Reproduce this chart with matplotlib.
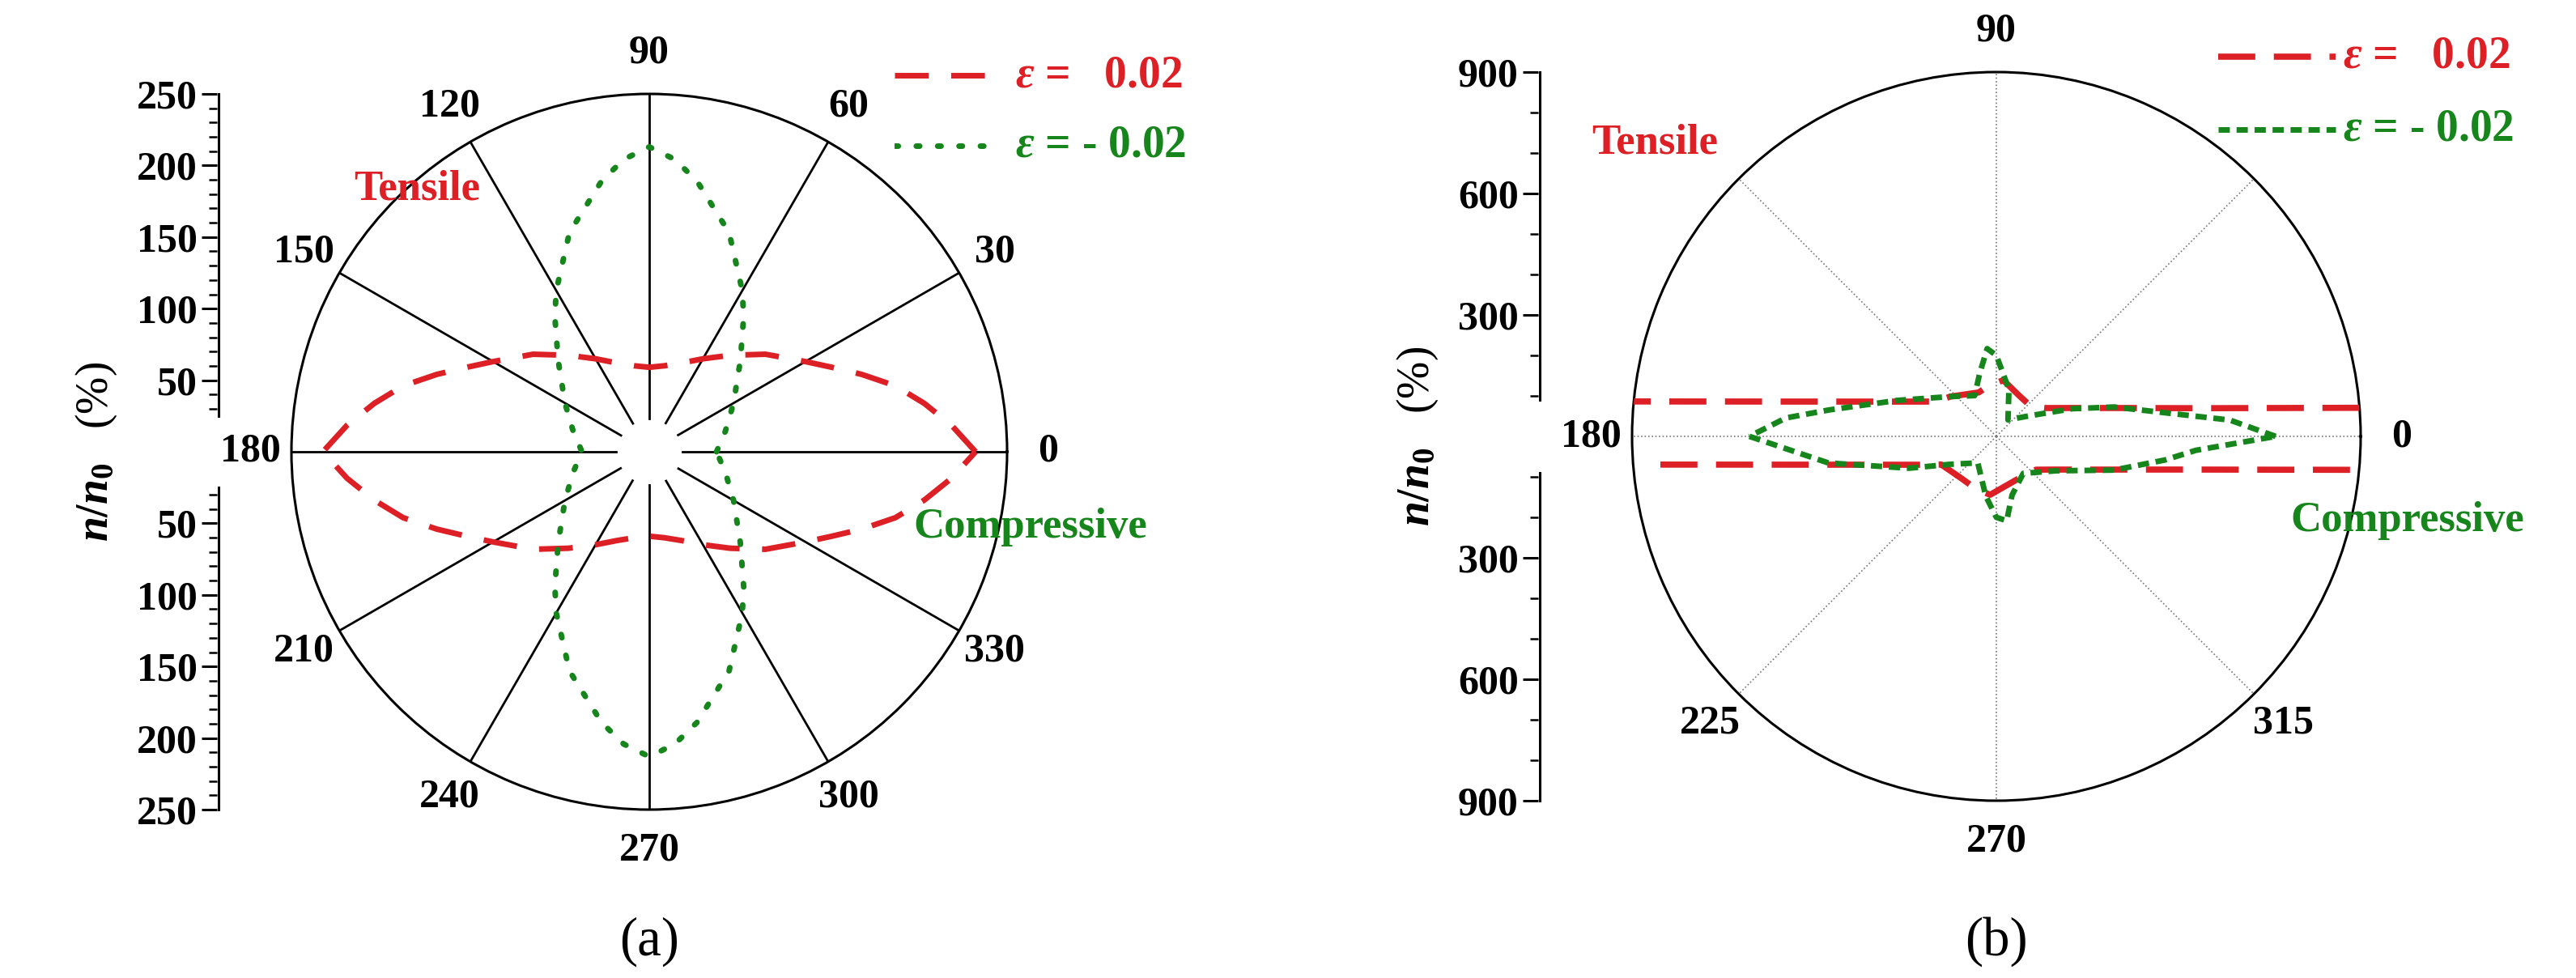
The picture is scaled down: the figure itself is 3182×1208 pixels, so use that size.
import numpy as np
import matplotlib
matplotlib.use('Agg')
import matplotlib.pyplot as plt
from matplotlib.ticker import FuncFormatter

plt.rcParams['font.family'] = 'Liberation Serif'
plt.rcParams['font.weight'] = 'bold'
plt.rcParams['mathtext.fontset'] = 'custom'
plt.rcParams['mathtext.it'] = 'Liberation Serif:italic:bold'
plt.rcParams['mathtext.rm'] = 'Liberation Serif:bold'

RED = '#dd1f26'
GREEN = '#16861c'

# ---- panel (a): angle (deg) / n/n0 (%) ----
a_tens_ang = [0, 5, 10, 15, 20, 25, 30, 40, 50, 60, 70, 80, 90]
a_tens_r = [228, 212, 195, 178, 158, 140, 126, 106, 88, 75, 66, 61, 59]
a_comp_ang = [0, 15, 30, 45, 55, 60, 70, 80, 85, 90]
a_comp_r = [47, 55, 68, 90, 115, 130, 163, 192, 205, 213]
a_theta_labels = ['0', '30', '60', '90', '120', '150', '180', '210', '240', '270', '300', '330']

# ---- panel (b) ----
b_tens_up_ang = [4.5, 6, 8, 12, 20, 30, 41, 60, 83, 100, 112, 139, 150, 160, 170, 174.5]
b_tens_up_r = [900, 670, 500, 337, 205, 140, 113, 115, 140, 125, 117, 150, 172, 251, 495, 900]
b_tens_lo_ang = [184.8, 190, 200, 207, 230, 250, 264, 280, 304, 320, 330, 340, 345, 350, 354.6]
b_tens_lo_r = [833, 403, 205, 153, 135, 140, 145, 125, 118, 128, 164, 240, 317, 472, 878]
b_comp_up_ang = [0, 4, 8, 14, 20, 31, 55, 75, 90, 96, 105, 118, 139, 160, 171, 175, 180]
b_comp_up_r = [690, 578, 420, 300, 200, 100, 50, 120, 200, 218, 160, 114, 150, 260, 418, 522, 610]
b_comp_lo_ang = [180, 189, 200, 211, 235, 260, 270, 277, 285, 306, 330, 344, 352, 356, 360]
b_comp_lo_r = [610, 420, 230, 134, 80, 150, 200, 210, 150, 113, 170, 302, 420, 494, 690]
b_theta_labels = ['0', '', '90', '', '180', '225', '270', '315']

W, H = 3182, 1208
fig = plt.figure(figsize=(W / 100, H / 100), dpi=100)
FS = 36


def polar_panel(cx, cy, rad, rmax, step, labels):
    axp = fig.add_axes([(cx - rad) / W, 1 - (cy + rad) / H, 2 * rad / W, 2 * rad / H],
                       projection='polar')
    axp.set_ylim(0, rmax)
    axp.set_yticks([])
    axp.spines['polar'].set_linewidth(2.2)
    axp.set_thetagrids(np.arange(0, 360, step), labels)
    axp.tick_params(axis='x', labelsize=FS, pad=26)
    return axp


def radial_axis(x, cy, rad, rmax, major, minor, hole):
    axl = fig.add_axes([x / W, 1 - (cy + rad) / H, 0.001, 2 * rad / H])
    axl.set_ylim(-rmax, rmax)
    for s in ['top', 'right', 'bottom', 'left']:
        axl.spines[s].set_visible(False)
    axl.set_xticks([])
    axl.plot([0, 0], [hole, rmax], color='black', lw=2.2, clip_on=False)
    axl.plot([0, 0], [-rmax, -hole], color='black', lw=2.2, clip_on=False)
    ticks = [t for t in np.arange(-rmax, rmax + 1, major) if abs(t) > hole]
    mticks = [t for t in np.arange(-rmax, rmax + 1, minor) if abs(t) > hole]
    axl.set_yticks(ticks)
    axl.set_yticks(mticks, minor=True)
    axl.yaxis.set_major_formatter(FuncFormatter(lambda v, p: '%d' % abs(v)))
    axl.tick_params(axis='y', which='major', length=14, width=2.2, labelsize=FS)
    axl.tick_params(axis='y', which='minor', length=7, width=1.8)
    axl.set_ylabel('$n/n_0$   (%)', fontsize=40, labelpad=16)
    return axl


def legend_box(x, y, w, color_lines):
    lg = fig.add_axes([x / W, 1 - y / H, w / W, 150 / H])
    lg.axis('off')
    lg.set_xlim(0, 1)
    lg.set_ylim(0, 1)
    return lg


# ----- (a) -----
axa = polar_panel(802, 558, 442, 250, 30, a_theta_labels)
axa.xaxis.grid(True, color='black', lw=2, ls='-')
th = np.linspace(0, 2 * np.pi, 200)
axa.fill_between(th, 0, 22, color='white', zorder=2)

ang = np.array(a_tens_ang)
r = np.array(a_tens_r)
full_ang = np.concatenate([ang, 180 - ang[::-1], 180 + ang, 360 - ang[::-1]])
full_r = np.concatenate([r, r[::-1], r, r[::-1]])
axa.plot(np.deg2rad(full_ang), full_r, color=RED, lw=5, dashes=(6, 4), zorder=3)
ang = np.array(a_comp_ang)
r = np.array(a_comp_r)
full_ang = np.concatenate([ang, 180 - ang[::-1], 180 + ang, 360 - ang[::-1]])
full_r = np.concatenate([r, r[::-1], r, r[::-1]])
axa.plot(np.deg2rad(full_ang), full_r, color=GREEN, lw=5, ls=(0, (0.6, 3.2)),
         dash_capstyle='round', zorder=3)
radial_axis(268, 558, 442, 250, 50, 10, 25)

fig.text(515 / W, 1 - 233 / H, 'Tensile', color=RED, fontsize=38, ha='center', va='center')
fig.text(1273 / W, 1 - 651 / H, 'Compressive', color=GREEN, fontsize=38, ha='center', va='center')
fig.text(802 / W, 1 - 1163 / H, '(a)', fontsize=48, weight='normal', ha='center', va='center')

la = legend_box(1105, 210, 480, None)
la.plot([0, 0.27], [0.78, 0.78], color=RED, lw=5, dashes=(6, 4))
la.plot([0, 0.27], [0.2, 0.2], color=GREEN, lw=5, ls=(0, (0.6, 3.2)), dash_capstyle='round')
la.text(0.31, 0.78, r'$\varepsilon$ =   0.02', color=RED, fontsize=40, va='center')
la.text(0.31, 0.2, r'$\varepsilon$ = - 0.02', color=GREEN, fontsize=40, va='center')

# ----- (b) -----
axb = polar_panel(2466, 539, 450, 900, 45, b_theta_labels)
axb.xaxis.grid(True, color='#777777', lw=1.2, ls=':')
axb.plot(np.deg2rad(b_tens_up_ang), b_tens_up_r, color=RED, lw=5.5, dashes=(6, 3), zorder=3)
axb.plot(np.deg2rad(b_tens_lo_ang), b_tens_lo_r, color=RED, lw=5.5, dashes=(6, 3), zorder=3)
axb.plot(np.deg2rad(b_comp_up_ang), b_comp_up_r, color=GREEN, lw=5, dashes=(2, 1.2), zorder=4)
axb.plot(np.deg2rad(b_comp_lo_ang), b_comp_lo_r, color=GREEN, lw=5, dashes=(2, 1.2), zorder=4)
radial_axis(1900, 539, 450, 900, 300, 100, 90)

fig.text(2044 / W, 1 - 177 / H, 'Tensile', color=RED, fontsize=38, ha='center', va='center')
fig.text(2974 / W, 1 - 643 / H, 'Compressive', color=GREEN, fontsize=38, ha='center', va='center')
fig.text(2466 / W, 1 - 1163 / H, '(b)', fontsize=48, weight='normal', ha='center', va='center')

lb = legend_box(2740, 190, 440, None)
lb.plot([0, 0.33], [0.8, 0.8], color=RED, lw=5.5, dashes=(6, 3))
lb.plot([0, 0.33], [0.2, 0.2], color=GREEN, lw=5, dashes=(2, 1.2))
lb.text(0.35, 0.8, r'$\varepsilon$ =   0.02', color=RED, fontsize=40, va='center')
lb.text(0.35, 0.2, r'$\varepsilon$ = - 0.02', color=GREEN, fontsize=40, va='center')

fig.savefig('out.png', dpi=100, facecolor='white')
